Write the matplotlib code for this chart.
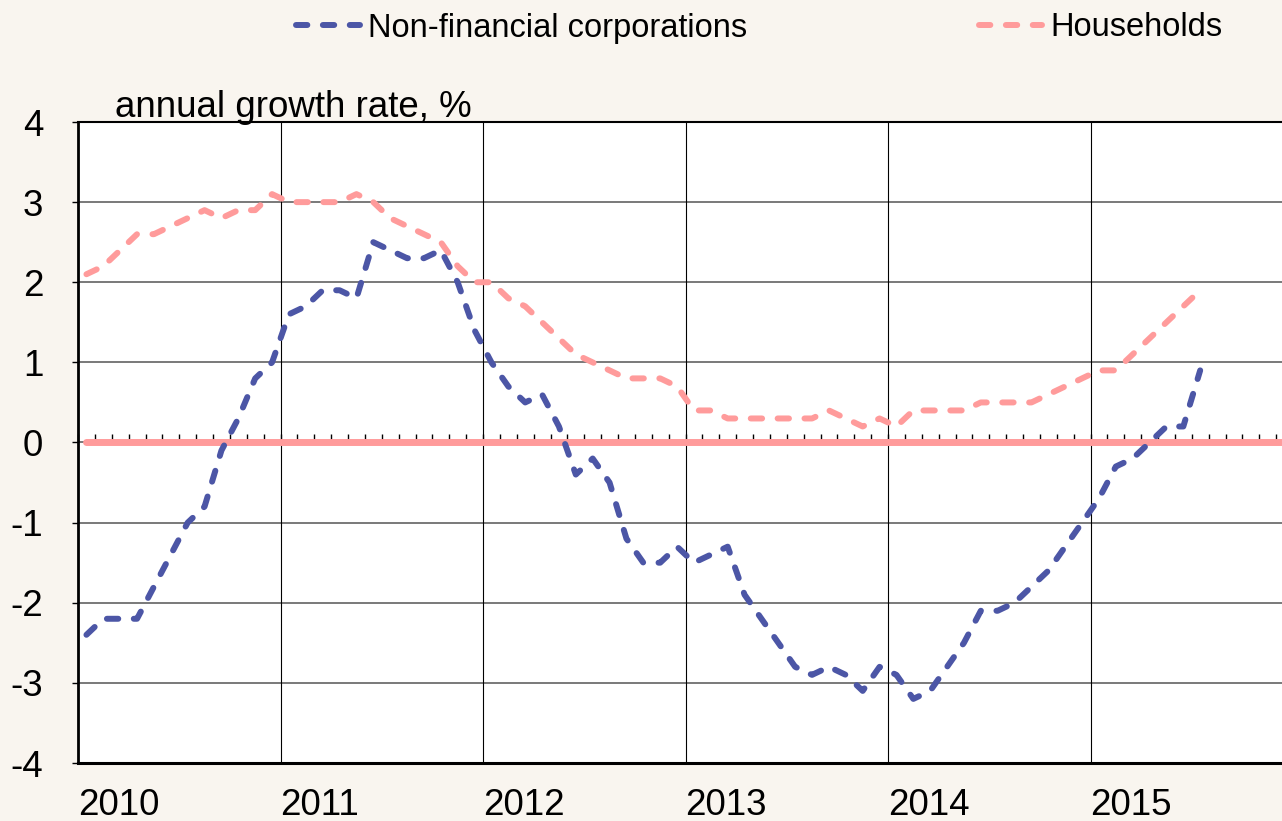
import numpy as np
import matplotlib.pyplot as plt
from matplotlib.lines import Line2D

# ==========================================================
# DATA (monthly, Jan 2010 - Jul 2015, annual growth rate %)
# ==========================================================

years = ["2010", "2011", "2012", "2013", "2014", "2015"]

non_financial = [
    -2.4, -2.2, -2.2, -2.2, -1.8, -1.4, -1.0, -0.8, -0.1, 0.3, 0.8, 1.0,
    1.6, 1.7, 1.9, 1.9, 1.8, 2.5, 2.4, 2.3, 2.3, 2.4, 2.0, 1.4,
    1.0, 0.7, 0.5, 0.6, 0.2, -0.4, -0.2, -0.5, -1.2, -1.5, -1.5, -1.3,
    -1.5, -1.4, -1.3, -1.9, -2.2, -2.5, -2.8, -2.9, -2.8, -2.9, -3.1, -2.8,
    -2.9, -3.2, -3.1, -2.8, -2.5, -2.1, -2.1, -2.0, -1.8, -1.6, -1.3, -1.0,
    -0.7, -0.3, -0.2, 0.0, 0.2, 0.2, 0.9,
]

households = [
    2.1, 2.2, 2.4, 2.6, 2.6, 2.7, 2.8, 2.9, 2.8, 2.9, 2.9, 3.1,
    3.0, 3.0, 3.0, 3.0, 3.1, 3.0, 2.8, 2.7, 2.6, 2.5, 2.2, 2.0,
    2.0, 1.8, 1.7, 1.5, 1.3, 1.1, 1.0, 0.9, 0.8, 0.8, 0.8, 0.7,
    0.4, 0.4, 0.3, 0.3, 0.3, 0.3, 0.3, 0.3, 0.4, 0.3, 0.2, 0.3,
    0.2, 0.4, 0.4, 0.4, 0.4, 0.5, 0.5, 0.5, 0.5, 0.6, 0.7, 0.8,
    0.9, 0.9, 1.1, 1.3, 1.5, 1.7, 1.9,
]

zero_line = [0.0] * 72

# ==========================================================
# STYLE
# ==========================================================

BG = "#F9F5EF"
BLUE = "#4C56A6"
PINK = "#FF9B9B"
LW = 4.3
DASH = (0, (1.9, 2.6))
FS = 26.5

plt.rcParams["font.family"] = ["Liberation Sans", "DejaVu Sans"]

fig = plt.figure(figsize=(12.82, 8.21), dpi=100, facecolor=BG)
ax = fig.add_axes([78 / 1282, 58 / 821, 1215 / 1282, 641 / 821])
ax.set_facecolor("white")

n_months = len(zero_line)

# ==========================================================
# LINES
# ==========================================================

ax.plot(np.arange(n_months) + 0.5, zero_line, color=PINK, lw=5.0,
        solid_capstyle="round", zorder=2)

x_nfc = np.arange(len(non_financial)) + 0.5
x_hh = np.arange(len(households)) + 0.5

ax.plot(x_hh, households, color=PINK, lw=LW, linestyle=DASH,
        dash_capstyle="round", zorder=3)
ax.plot(x_nfc, non_financial, color=BLUE, lw=LW, linestyle=DASH,
        dash_capstyle="round", zorder=4)

# ==========================================================
# AXES
# ==========================================================

ax.set_xlim(0, n_months)
ax.set_ylim(-4, 4)

ax.set_yticks(np.arange(-4, 5, 1))
ax.set_yticklabels([str(v) for v in range(-4, 5)])
ax.tick_params(axis="y", direction="out", length=4, width=1, pad=21,
               labelsize=FS, colors="black")

ax.set_xticks(np.arange(0, n_months, 12))
ax.set_xticklabels(years, ha="left")
ax.tick_params(axis="x", length=0, pad=18, labelsize=FS)

# grid
for v in range(-3, 4):
    ax.axhline(v, color="#555555", lw=1.1, zorder=1)
for k in range(12, n_months, 12):
    ax.axvline(k, color="black", lw=0.8, zorder=1)

for side in ["left", "bottom", "top"]:
    ax.spines[side].set_color("black")
ax.spines["left"].set_linewidth(2)
ax.spines["bottom"].set_linewidth(2.2)
ax.spines["top"].set_linewidth(1.5)
ax.spines["right"].set_visible(False)

# month ticks along the zero line
sec = ax.secondary_xaxis(0.5)
sec.set_xticks(np.arange(0, n_months + 1))
sec.tick_params(direction="out", length=6, width=1, labelsize=0,
                labeltop=False, labelbottom=False, colors="black")
sec.spines["top"].set_visible(False)
sec.spines["bottom"].set_visible(False)

# ==========================================================
# TEXT / LEGEND
# ==========================================================

fig.text(115 / 1282, (821 - 117) / 821, "annual growth rate, %",
         fontsize=FS, va="baseline", ha="left")

handles = [
    Line2D([], [], color=BLUE, lw=LW, linestyle=DASH, dash_capstyle="round"),
    Line2D([], [], color=PINK, lw=LW, linestyle=DASH, dash_capstyle="round"),
]
fig.legend(handles, ["Non-financial corporations", "Households"],
           loc="center left", bbox_to_anchor=(296 / 1282, (821 - 28) / 821),
           ncol=2, frameon=False, fontsize=23.5, handlelength=1.95,
           handletextpad=0.25, columnspacing=7.1, borderpad=0,
           borderaxespad=0)

fig.savefig("out.png", dpi=100, facecolor=BG)
